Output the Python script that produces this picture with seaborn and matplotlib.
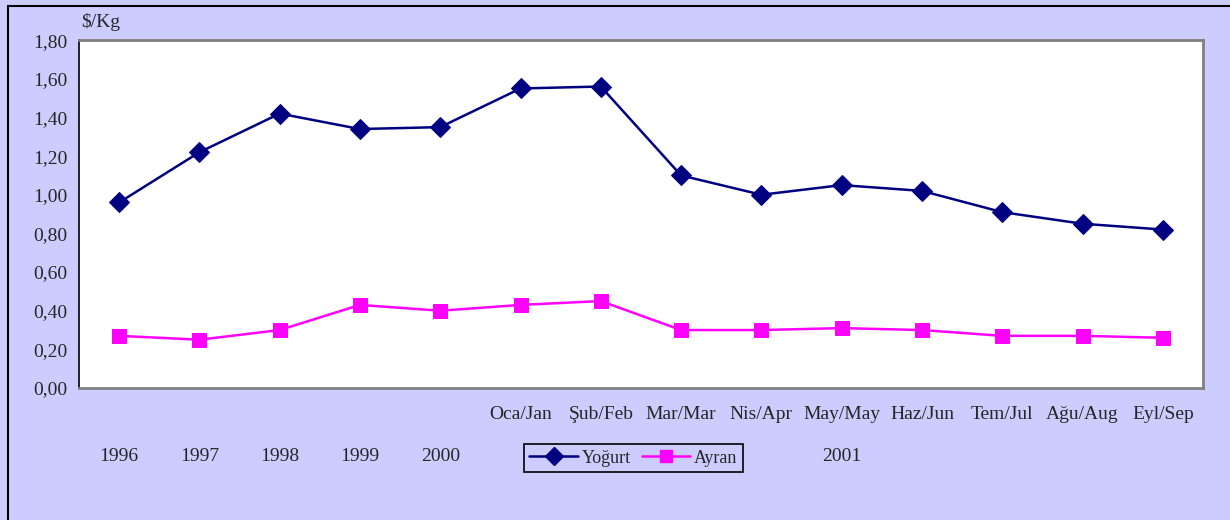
import matplotlib
matplotlib.use("Agg")
import matplotlib.pyplot as plt
import seaborn as sns
from matplotlib.lines import Line2D
from matplotlib.transforms import blended_transform_factory

# values ($/Kg)
periods = ["1996", "1997", "1998", "1999", "2000",
           "Oca/Jan", "Şub/Feb", "Mar/Mar", "Nis/Apr", "May/May",
           "Haz/Jun", "Tem/Jul", "Ağu/Aug", "Eyl/Sep"]
yogurt = [0.96, 1.22, 1.42, 1.34, 1.35, 1.55, 1.56, 1.10, 1.00, 1.05, 1.02, 0.91, 0.85, 0.82]
ayran = [0.27, 0.25, 0.30, 0.43, 0.40, 0.43, 0.45, 0.30, 0.30, 0.31, 0.30, 0.27, 0.27, 0.26]
years = ["1996", "1997", "1998", "1999", "2000"]
year_2001 = "2001"

sns.set_style("white")
plt.rcParams['font.family'] = ['Liberation Serif', 'DejaVu Serif']

bg = "#CCCCFF"
navy = "#000080"
magenta = "#FF00FF"

fig = plt.figure(figsize=(12.3, 5.2), dpi=100, facecolor=bg)
ax = fig.add_axes([0.0642, 0.2538, 0.9138, 0.669])
ax.set_facecolor("white")

pos = list(range(len(periods)))
sns.lineplot(x=pos, y=yogurt, ax=ax, color=navy, marker="D", markersize=10,
             markeredgecolor=navy, linewidth=1.8)
sns.lineplot(x=pos, y=ayran, ax=ax, color=magenta, marker="s", markersize=10,
             markeredgecolor=magenta, linewidth=1.8)

ax.set_xlim(-0.5, len(periods) - 0.5)
ax.set_ylim(0, 1.8)
ax.set_yticks([i * 0.2 for i in range(10)])
ax.set_yticklabels([f"{i * 0.2:.2f}".replace(".", ",") for i in range(10)], fontsize=14)

# month labels on the first row, year labels on a second row
ax.set_xticks(pos)
ax.set_xticklabels([""] * 5 + periods[5:], fontsize=14)
ax.tick_params(axis="x", length=0, pad=13)
ax.tick_params(axis="y", length=5, width=1, color="black", direction="out", pad=3)

tr = blended_transform_factory(ax.transData, ax.transAxes)
for i, y in enumerate(years):
    ax.text(i, -0.198, y, transform=tr, ha="center", va="center", fontsize=14)
ax.text(9, -0.198, year_2001, transform=tr, ha="center", va="center", fontsize=14)

ax.text(0.002, 1.052, r"\$/Kg", transform=ax.transAxes, ha="left", va="center", fontsize=14)

for side in ["top", "right", "bottom"]:
    ax.spines[side].set_color("#808080")
    ax.spines[side].set_linewidth(2)
ax.spines["left"].set_color("black")
ax.spines["left"].set_linewidth(1.2)

handles = [Line2D([], [], color=navy, marker="D", markersize=9, linewidth=1.8),
           Line2D([], [], color=magenta, marker="s", markersize=9, linewidth=1.8)]
leg = fig.legend(handles, ["Yoğurt", "Ayran"], loc="center", bbox_to_anchor=(0.515, 0.119),
                 ncol=2, frameon=True, fancybox=False, edgecolor="black", facecolor=bg,
                 fontsize=13, handlelength=2.7, handletextpad=0.2, columnspacing=0.6,
                 borderpad=0.3)
leg.get_frame().set_linewidth(1.2)
leg.get_frame().set_alpha(1)

# outer chart border (top and left visible)
fig.add_artist(Line2D([0.0065, 1.0], [0.988, 0.988], transform=fig.transFigure, color="black", linewidth=1.5))
fig.add_artist(Line2D([0.0065, 0.0065], [0.0, 0.988], transform=fig.transFigure, color="black", linewidth=1.5))

fig.savefig("out.png", dpi=100, facecolor=bg)
